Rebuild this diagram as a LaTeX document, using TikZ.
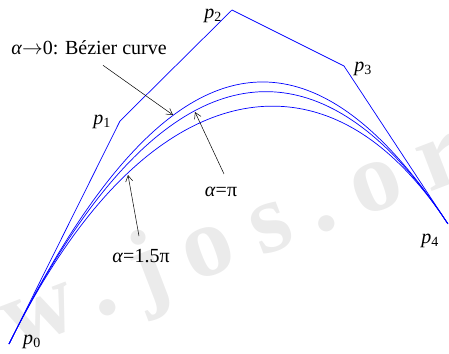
\documentclass[tikz,border=0pt]{standalone}
\usepackage{fontspec}
\setmainfont{Liberation Serif}
\usetikzlibrary{arrows.meta}
\newcommand{\ctrlpt}[1]{\textit{p}\textsubscript{#1}}
% quartic Bezier in one coordinate
\pgfmathdeclarefunction{quart}{6}{%
  \pgfmathparse{(1-#1)^4*#2+4*(1-#1)^3*#1*#3+6*(1-#1)^2*#1^2*#4+4*(1-#1)*#1^3*#5+#1^4*#6}%
}
\begin{document}
\begin{tikzpicture}[x=1pt, y=-1pt,
    polygon/.style={blue, line width=0.7pt},
    curve/.style={blue, line width=0.7pt},
    pointer/.style={-{Straight Barb[length=6pt,width=7pt]}, black, line width=0.5pt},
    lbl/.style={font=\fontsize{20}{23}\selectfont, inner sep=1pt}]
    \useasboundingbox (0,0) rectangle (449,353);

    % Watermark
    \node[anchor=base, rotate=21, text=black!8,
          font=\fontsize{100}{100}\selectfont\bfseries\addfontfeatures{LetterSpace=22}]
          (Mark) at (278,250) {www.jos.org.cn};

    % Control points
    \coordinate (P0) at (9,344);
    \coordinate (P1) at (120,121);
    \coordinate (P2) at (232,10);
    \coordinate (P3) at (344,66);
    \coordinate (P4) at (448,224);

    % Control polygon
    \draw[polygon] (P0) -- (P1) -- (P2) -- (P3) -- (P4);

    % Curves
    \draw[curve] plot[domain=0:1, samples=90, variable=\t]
        ({quart(\t,9,120,232,344,448)}, {quart(\t,344,121,10,66,224)});
    \draw[curve] plot[domain=0:1, samples=90, variable=\t]
        ({quart(\t,9,120,232,344,448)}, {quart(\t,344,121,37,66,224)});
    \draw[curve] plot[domain=0:1, samples=90, variable=\t]
        ({quart(\t,9,120,232,344,448)}, {quart(\t,344,121,78,66,224)});

    % Points on the curves
    \coordinate (OnBez) at (173,115);
    \coordinate (OnPi) at (195,112);
    \coordinate (OnOneHalf) at (128,175);

    % Labels
    \node[lbl] (Bez) at (89,48) {\textit{α}$\rightarrow$0: Bézier curve};
    \node[lbl] (Pi) at (221,192) {\textit{α}=π};
    \node[lbl] (OneHalf) at (141,256) {\textit{α}=1.5π};
    \draw[pointer] ([xshift=14pt,yshift=-9pt]Bez.south) -- (OnBez);
    \draw[pointer] ([xshift=3pt,yshift=12pt]Pi.north) -- (OnPi);
    \draw[pointer] ([xshift=-2pt,yshift=12pt]OneHalf.north) -- (OnOneHalf);

    \node[lbl] (L0) at (32,342) {\ctrlpt{0}};
    \node[lbl] (L1) at (102,122) {\ctrlpt{1}};
    \node[lbl] (L2) at (213,16) {\ctrlpt{2}};
    \node[lbl] (L3) at (363,69) {\ctrlpt{3}};
    \node[lbl] (L4) at (430,241) {\ctrlpt{4}};
\end{tikzpicture}
\end{document}
